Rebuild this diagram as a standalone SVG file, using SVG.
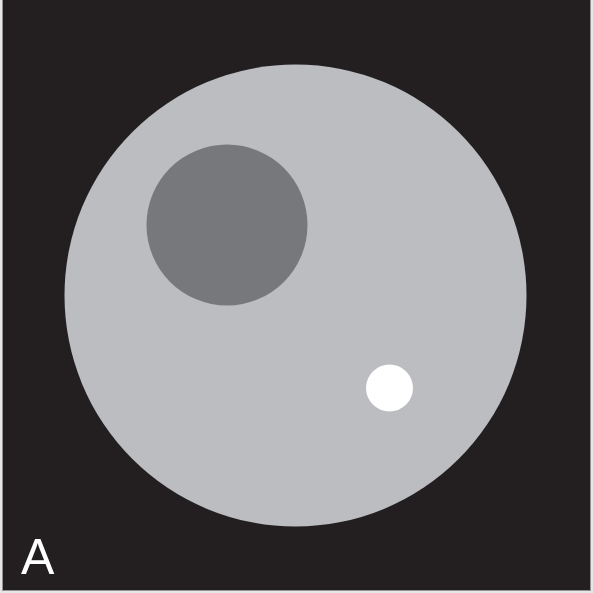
<svg xmlns="http://www.w3.org/2000/svg" width="593" height="593" viewBox="0 0 593 593">
<style>
.label{font-family:"Liberation Sans",Arial,sans-serif;font-size:50px;fill:#ffffff}
</style>
<rect x="0" y="0" width="593" height="593" fill="#e6e6e6"/>
<rect x="2" y="0" width="589" height="591" fill="#939393"/>
<rect x="3" y="0" width="587" height="590" fill="#231f20"/>
<g id="phantom">
<circle cx="295.5" cy="295.5" r="231" fill="#bcbdc1"/>
</g>
<g id="dark-insert">
<circle cx="227" cy="225" r="80.5" fill="#77787b"/>
</g>
<g id="bright-insert">
<circle cx="389.5" cy="388" r="23.5" fill="#ffffff"/>
</g>
<text class="label" x="21" y="574">A</text>
</svg>
